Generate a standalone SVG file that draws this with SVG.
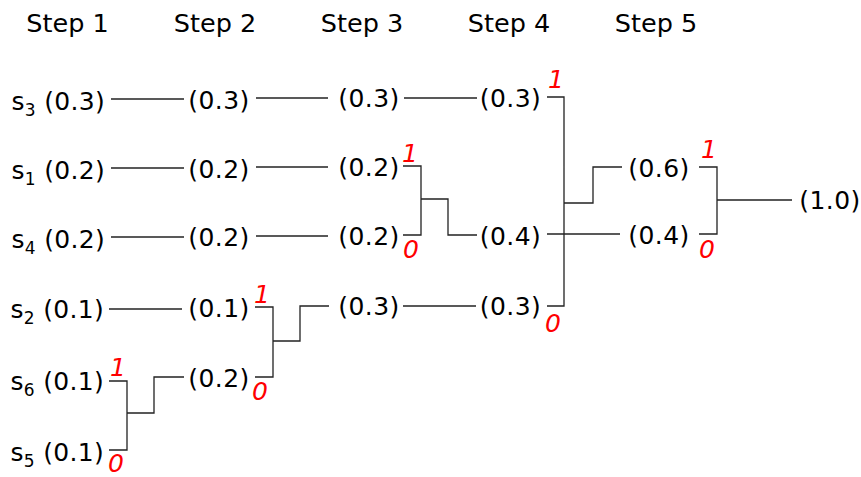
<svg xmlns="http://www.w3.org/2000/svg" width="861" height="477" viewBox="0 0 861 477">
<style>
text{font-family:"DejaVu Sans","Liberation Sans",sans-serif;fill:#000}
.h{font-size:25.5px;text-anchor:middle}
.v{font-size:25px;text-anchor:middle;letter-spacing:0.4px}
.s{font-size:25px;text-anchor:end;letter-spacing:0.3px}
.b{font-size:25px;fill:#ff0000;font-style:italic}
.c path,.c line{stroke:#222;stroke-width:1.3;fill:none}
</style>
<rect width="861" height="477" fill="#fff"/>
<g id="headers">
<text class="h" x="67.5" y="32">Step 1</text>
<text class="h" x="215" y="32">Step 2</text>
<text class="h" x="362" y="32">Step 3</text>
<text class="h" x="509" y="32">Step 4</text>
<text class="h" x="656" y="32">Step 5</text>
</g>
<g id="step1">
<text class="s" x="105" y="110">s<tspan font-size="17" dy="6">3</tspan><tspan dy="-6"> (0.3)</tspan></text>
<text class="s" x="105" y="179">s<tspan font-size="17" dy="6">1</tspan><tspan dy="-6"> (0.2)</tspan></text>
<text class="s" x="105" y="248">s<tspan font-size="17" dy="6">4</tspan><tspan dy="-6"> (0.2)</tspan></text>
<text class="s" x="104" y="318">s<tspan font-size="17" dy="6">2</tspan><tspan dy="-6"> (0.1)</tspan></text>
<text class="s" x="104" y="390">s<tspan font-size="17" dy="6">6</tspan><tspan dy="-6"> (0.1)</tspan></text>
<text class="s" x="104" y="461">s<tspan font-size="17" dy="6">5</tspan><tspan dy="-6"> (0.1)</tspan></text>
</g>
<g id="step2">
<text class="v" x="219" y="109">(0.3)</text>
<text class="v" x="219" y="178">(0.2)</text>
<text class="v" x="219" y="246">(0.2)</text>
<text class="v" x="219" y="317">(0.1)</text>
<text class="v" x="219" y="387">(0.2)</text>
</g>
<g id="step3">
<text class="v" x="369" y="107">(0.3)</text>
<text class="v" x="369" y="176">(0.2)</text>
<text class="v" x="369" y="245">(0.2)</text>
<text class="v" x="369" y="315">(0.3)</text>
</g>
<g id="step4">
<text class="v" x="510.5" y="107">(0.3)</text>
<text class="v" x="510.5" y="245">(0.4)</text>
<text class="v" x="510.5" y="315">(0.3)</text>
</g>
<g id="step5">
<text class="v" x="659" y="177">(0.6)</text>
<text class="v" x="659" y="244">(0.4)</text>
</g>
<g id="result">
<text class="v" x="830" y="209">(1.0)</text>
</g>
<g id="bits">
<text class="b" x="110" y="376">1</text>
<text class="b" x="108" y="472">0</text>
<text class="b" x="254" y="303">1</text>
<text class="b" x="252" y="400">0</text>
<text class="b" x="402" y="162">1</text>
<text class="b" x="403" y="258">0</text>
<text class="b" x="548" y="88">1</text>
<text class="b" x="545" y="332">0</text>
<text class="b" x="701" y="158">1</text>
<text class="b" x="699" y="258">0</text>
</g>
<g id="connectors" class="c">
<line x1="111" y1="99" x2="184" y2="99"/>
<line x1="111" y1="168" x2="184" y2="168"/>
<line x1="111" y1="237" x2="184" y2="237"/>
<line x1="109" y1="309" x2="182" y2="309"/>
<path d="M109 381H127V450H109M127 413H154V377H184"/>
<line x1="256" y1="98" x2="328" y2="98"/>
<line x1="256" y1="167" x2="328" y2="167"/>
<line x1="256" y1="236" x2="328" y2="236"/>
<path d="M255 307H273V377H255M273 341H300V306H329"/>
<line x1="404" y1="98" x2="477" y2="98"/>
<path d="M403 166H421V235H403M421 199H448V235H477"/>
<line x1="403" y1="306" x2="476" y2="306"/>
<path d="M547 97H564V306H547M564 203H593V167H622"/>
<line x1="547" y1="234" x2="620" y2="234"/>
<path d="M699 167H717V234H699M717 200H792"/>
</g>
</svg>
